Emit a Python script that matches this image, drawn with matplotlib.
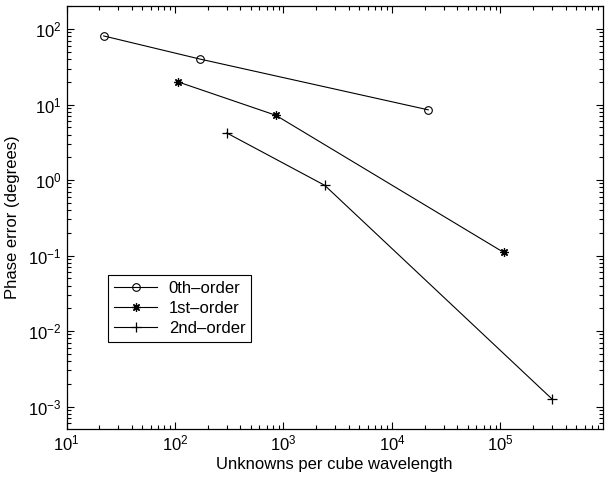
import matplotlib
matplotlib.use("Agg")
import matplotlib.pyplot as plt
from matplotlib.ticker import LogLocator, NullFormatter

plt.rcParams['font.family'] = ['Liberation Sans', 'DejaVu Sans']

# data
x0 = [22, 170, 21600]
y0 = [81, 40, 8.5]
x1 = [106, 850, 107000]
y1 = [20, 7.2, 0.11]
x2 = [300, 2400, 298000]
y2 = [4.2, 0.85, 0.00126]
labels = ['0th–order', '1st–order', '2nd–order']

fig = plt.figure(figsize=(6.05, 4.82), dpi=100)
ax = fig.add_axes([66.5/605, 1-429/482, (603-66.5)/605, (429-6)/482])

kw = dict(color='black', lw=0.8)
ax.plot(x0, y0, marker='o', ms=5.5, mfc='none', mec='black', mew=0.8, label=labels[0], **kw)
ax.plot(x1, y1, marker=(8, 2, 0), ms=6, mec='black', mew=0.9, label=labels[1], **kw)
ax.plot(x2, y2, marker='+', ms=7, mec='black', mew=0.9, label=labels[2], **kw)

ax.set_xscale('log')
ax.set_yscale('log')
ax.set_xlim(10, 10**5.945)
ax.set_ylim(10**-3.298, 10**2.305)

ax.xaxis.set_major_locator(LogLocator(base=10, numticks=10))
ax.yaxis.set_major_locator(LogLocator(base=10, numticks=10))
ax.xaxis.set_minor_locator(LogLocator(base=10, subs=range(2, 10), numticks=20))
ax.yaxis.set_minor_locator(LogLocator(base=10, subs=range(2, 10), numticks=20))
ax.xaxis.set_minor_formatter(NullFormatter())
ax.yaxis.set_minor_formatter(NullFormatter())

ax.tick_params(which='both', direction='in', top=True, right=True, labelsize=12, width=0.8)
ax.tick_params(which='major', length=5)
ax.tick_params(which='minor', length=3)
for s in ax.spines.values():
    s.set_linewidth(0.9)

ax.set_xlabel('Unknowns per cube wavelength', fontsize=12, labelpad=2)
ax.set_ylabel('Phase error (degrees)', fontsize=12, labelpad=6)

leg = ax.legend(loc='upper left', bbox_to_anchor=((108-66.5)/536.5, (429-275)/423),
                borderaxespad=0, fancybox=False, framealpha=1, edgecolor='black',
                fontsize=12, handlelength=2.6, handletextpad=0.7, borderpad=0.35,
                labelspacing=0.3)
leg.get_frame().set_linewidth(0.8)

fig.savefig('out.png', dpi=100)
